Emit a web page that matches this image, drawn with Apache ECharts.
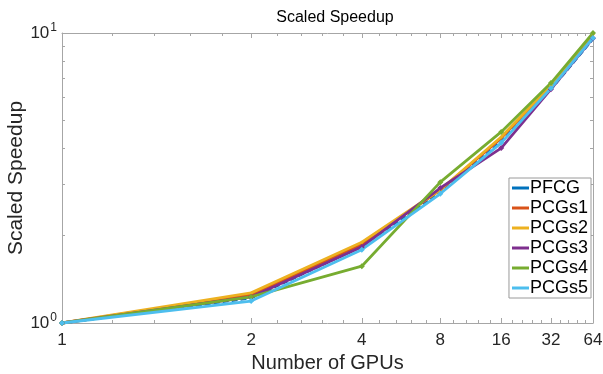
<!DOCTYPE html>
<html>
<head>
<meta charset="utf-8">
<script src="https://cdn.jsdelivr.net/npm/echarts@6/dist/echarts.min.js"></script>
<style>
    html, body { margin: 0; padding: 0; background: #fff; }
    #chart-container { width: 603px; height: 374px; }
</style>
</head>
<body>
<div id="chart-container"></div>
<script>
// x is plotted at 1..7 on a log axis, labelled with the GPU counts
const gpuPos = [1, 2, 3, 4, 5, 6, 7];
const gpuLabels = ["1", "2", "4", "8", "16", "32", "64"];
const xMinorTicks = [1.2, 1.4, 1.6, 1.8, 2.2, 2.4, 2.6, 2.8, 3.2, 3.4, 3.6, 3.8,
    4.2, 4.4, 4.6, 4.8, 5.2, 5.4, 5.6, 5.8, 6.2, 6.4, 6.6, 6.8];
const yMajorTicks = [1, 10];
const yMinorTicks = [2, 3, 4, 5, 6, 7, 8, 9];

const seriesNames = ["PFCG", "PCGs1", "PCGs2", "PCGs3", "PCGs4", "PCGs5"];
const pfcg = [1, 1.22, 1.84, 2.83, 4.22, 6.4, 9.55];
const pcgs1 = [1, 1.25, 1.87, 2.87, 4.34, 6.55, 9.8];
const pcgs2 = [1, 1.27, 1.9, 2.88, 4.38, 6.6, 9.9];
const pcgs3 = [1, 1.23, 1.83, 2.92, 4.01, 6.4, 9.6];
const pcgs4 = [1, 1.23, 1.57, 3.06, 4.56, 6.72, 10.0];
const pcgs5 = [1, 1.19, 1.79, 2.79, 4.18, 6.45, 9.62];

const colors = ["#0072BD", "#D95319", "#EDB120", "#7E2F8E", "#77AC30", "#4DBEEE"];
const values = [pfcg, pcgs1, pcgs2, pcgs3, pcgs4, pcgs5];
const symbols = ["none", "none", "circle", "diamond", "diamond", "diamond"];

const font = "Liberation Sans, Arial, sans-serif";
const axisGray = "#a6a6a6";
const textDark = "#262626";

const chart = echarts.init(document.getElementById("chart-container"));

function logAxis(opts) {
    return Object.assign({
        type: "log",
        logBase: 10,
        splitLine: { show: false },
        axisLine: { show: false, lineStyle: { color: axisGray, width: 1 } },
        axisLabel: { show: false },
        axisTick: { show: false }
    }, opts);
}

const xAxes = [
    logAxis({
        position: "bottom", min: 1, max: 7,
        axisLine: { show: true, onZero: false, lineStyle: { color: axisGray } },
        axisTick: { show: true, inside: true, length: 5, customValues: gpuPos, lineStyle: { color: axisGray } },
        axisLabel: {
            show: true, customValues: gpuPos, color: textDark, fontSize: 17, fontFamily: font, margin: 9,
            formatter: (v) => gpuLabels[Math.round(v) - 1]
        },
        name: "Number of GPUs", nameLocation: "middle", nameGap: 30,
        nameTextStyle: { fontSize: 20, fontFamily: font, color: textDark }
    }),
    logAxis({
        position: "bottom", min: 1, max: 7,
        axisTick: { show: true, inside: true, length: 3, customValues: xMinorTicks, lineStyle: { color: axisGray } }
    }),
    logAxis({
        position: "top", min: 1, max: 7,
        axisLine: { show: true, onZero: false, lineStyle: { color: axisGray } },
        axisTick: { show: true, inside: true, length: 5, customValues: gpuPos, lineStyle: { color: axisGray } }
    }),
    logAxis({
        position: "top", min: 1, max: 7,
        axisTick: { show: true, inside: true, length: 3, customValues: xMinorTicks, lineStyle: { color: axisGray } }
    })
];

const yAxes = [
    logAxis({
        position: "left", min: 1, max: 10,
        axisLine: { show: true, onZero: false, lineStyle: { color: axisGray } },
        axisTick: { show: true, inside: true, length: 5, customValues: yMajorTicks, lineStyle: { color: axisGray } },
        axisLabel: {
            show: true, customValues: yMajorTicks, margin: 5,
            formatter: (v) => "{b|10}{s|" + Math.round(Math.log10(v)) + "}",
            rich: {
                b: { fontSize: 17, fontFamily: font, color: textDark },
                s: { fontSize: 12, fontFamily: font, color: textDark, padding: [0, 0, 11, 1] }
            }
        },
        name: "Scaled Speedup", nameLocation: "middle", nameGap: 35, nameMoveOverlap: false,
        nameTextStyle: { fontSize: 21, fontFamily: font, color: textDark }
    }),
    logAxis({
        position: "left", min: 1, max: 10,
        axisTick: { show: true, inside: true, length: 3, customValues: yMinorTicks, lineStyle: { color: axisGray } }
    }),
    logAxis({
        position: "right", min: 1, max: 10,
        axisLine: { show: true, onZero: false, lineStyle: { color: axisGray } },
        axisTick: { show: true, inside: true, length: 5, customValues: yMajorTicks, lineStyle: { color: axisGray } }
    }),
    logAxis({
        position: "right", min: 1, max: 10,
        axisTick: { show: true, inside: true, length: 3, customValues: yMinorTicks, lineStyle: { color: axisGray } }
    })
];

const series = seriesNames.map((name, i) => ({
    name: name,
    type: "line",
    xAxisIndex: 0,
    yAxisIndex: 0,
    data: gpuPos.map((x, j) => [x, values[i][j]]),
    symbol: symbols[i],
    symbolSize: symbols[i] === "circle" ? 3 : 6,
    showSymbol: symbols[i] !== "none",
    clip: false,
    color: colors[i],
    lineStyle: { width: 2.8, color: colors[i], type: i === 0 ? [6, 3] : "solid" },
    itemStyle: { color: colors[i] },
    emphasis: { disabled: true },
    animation: false
}));

const options = {
    animation: false,
    title: {
        text: "Scaled Speedup",
        left: 330,
        textAlign: "center",
        top: 5,
        textStyle: { fontSize: 16, fontWeight: "normal", fontFamily: font, color: "#000" }
    },
    grid: { left: 62, right: 10, top: 33, bottom: 51, containLabel: false, outerBoundsMode: "none" },
    legend: {
        orient: "vertical",
        right: 12,
        top: 178,
        data: seriesNames.map((n) => ({ name: n, icon: "rect" })),
        backgroundColor: "#fff",
        borderColor: "#9a9a9a",
        borderWidth: 1,
        borderRadius: 0,
        padding: [1, 3, 1, 3],
        itemWidth: 17,
        itemHeight: 3,
        itemGap: 2,
        textStyle: { fontSize: 18, fontFamily: font, color: "#000", padding: [0, 0, 0, -4] }
    },
    xAxis: xAxes,
    yAxis: yAxes,
    series: series
};

chart.setOption(options);
</script>
</body>
</html>
